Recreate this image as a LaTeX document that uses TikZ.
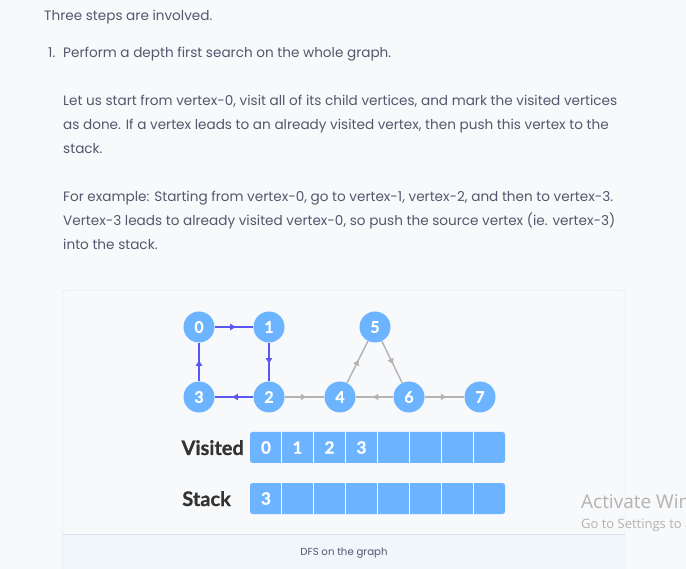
\documentclass[tikz,border=0pt]{standalone}
\usepackage{fontspec}
\setmainfont{Poppins}
\newfontfamily\lato{Lato}[BoldFeatures={FakeBold=0.8}]
\newfontfamily\winfont{Open Sans}
\usetikzlibrary{arrows.meta,decorations.markings}
\definecolor{pagebg}{HTML}{F8F9FB}
\definecolor{bodytext}{HTML}{56566E}
\definecolor{framegray}{HTML}{DCE2EB}
\definecolor{capband}{HTML}{F1F5FC}
\definecolor{vtxblue}{HTML}{6CB4FF}
\definecolor{dfsblue}{HTML}{5B57F2}
\definecolor{edgegray}{HTML}{B3B3B3}
\definecolor{labeldark}{HTML}{333333}

\begin{document}
\begin{tikzpicture}[x=1pt,y=-1pt,
  para/.style={anchor=base west,inner sep=0pt,text=bodytext,font=\fontsize{13.6}{16}\selectfont},
  vtx/.style={circle,fill=vtxblue,minimum size=31pt,inner sep=0pt,text=white,font=\lato\bfseries\fontsize{16}{16}\selectfont},
  midarrow/.style={postaction={decorate},decoration={markings,mark=at position 0.57 with {\arrow{Latex[length=6.5pt,width=7pt]}}}},
  dfsedge/.style={draw=dfsblue,line width=1.4pt,midarrow},
  greyedge/.style={draw=edgegray,line width=1.4pt,midarrow},
  arrlabel/.style={anchor=base east,inner sep=0pt,text=labeldark,font=\lato\bfseries\fontsize{20}{20}\selectfont},
  cellval/.style={inner sep=0pt,text=white,font=\lato\bfseries\fontsize{17}{17}\selectfont}]
\useasboundingbox (0,0) rectangle (686,569);
\fill[pagebg] (0,0) rectangle (686,569);

% page text
\node[para] (intro) at (44,21) {Three steps are involved.};
\node[para] (num1) at (48,58) {1.};
\node[para] (step1) at (63,58) {Perform a depth first search on the whole graph.};
\node[para] (l1) at (63,106) {Let us start from vertex-0, visit all of its child vertices, and mark the visited vertices};
\node[para] (l2) at (63,130) {as done. If a vertex leads to an already visited vertex, then push this vertex to the};
\node[para] (l3) at (63,154) {stack.};
\node[para] (l4) at (63,202) {For example: Starting from vertex-0, go to vertex-1, vertex-2, and then to vertex-3.};
\node[para] (l5) at (63,226) {Vertex-3 leads to already visited vertex-0, so push the source vertex (ie. vertex-3)};
\node[para] (l6) at (63,250) {into the stack.};

% figure frame
\draw[framegray,fill=pagebg,rounded corners=3pt] (62.5,290.5) rectangle (625,580);
\fill[capband] (63,534) rectangle (624.5,580);
\draw[framegray] (62.5,534) -- (625,534);
\node[inner sep=0pt,anchor=base,text=bodytext,font=\fontsize{10.2}{12}\selectfont] (cap) at (344,555) {DFS on the graph};

% graph
\node[vtx] (v0) at (199,327) {0};
\node[vtx] (v1) at (269,327) {1};
\node[vtx] (v5) at (375,327) {5};
\node[vtx] (v3) at (199,397) {3};
\node[vtx] (v2) at (269,397) {2};
\node[vtx] (v4) at (340,397) {4};
\node[vtx] (v6) at (409,397) {6};
\node[vtx] (v7) at (480,397) {7};

\draw[dfsedge] (v0) -- (v1);
\draw[dfsedge] (v1) -- (v2);
\draw[dfsedge] (v2) -- (v3);
\draw[dfsedge] (v3) -- (v0);
\draw[greyedge] (v2) -- (v4);
\draw[greyedge] (v4) -- (v5);
\draw[greyedge] (v5) -- (v6);
\draw[greyedge] (v6) -- (v4);
\draw[greyedge] (v6) -- (v7);

% visited array
\node[arrlabel] (vislabel) at (244,455) {Visited};
\fill[vtxblue,rounded corners=2.5pt] (250,432) rectangle (505,463);
\draw[white,line width=1pt] (281.5,432) -- (281.5,463) (313.5,432) -- (313.5,463)
  (345.5,432) -- (345.5,463) (377.5,432) -- (377.5,463) (409.5,432) -- (409.5,463)
  (441.5,432) -- (441.5,463) (473.5,432) -- (473.5,463);
\node[cellval] (vis0) at (266,447.5) {0};
\node[cellval] (vis1) at (297.5,447.5) {1};
\node[cellval] (vis2) at (329.5,447.5) {2};
\node[cellval] (vis3) at (361.5,447.5) {3};

% stack array
\node[arrlabel] (stklabel) at (231,506) {Stack};
\fill[vtxblue,rounded corners=2.5pt] (250,483) rectangle (505,514);
\draw[white,line width=1pt] (281.5,483) -- (281.5,514) (313.5,483) -- (313.5,514)
  (345.5,483) -- (345.5,514) (377.5,483) -- (377.5,514) (409.5,483) -- (409.5,514)
  (441.5,483) -- (441.5,514) (473.5,483) -- (473.5,514);
\node[cellval] (stk0) at (266,498.5) {3};

% watermark
\begin{scope}
\clip (0,0) rectangle (686,569);
\node[anchor=base west,inner sep=0pt,text=black!30,font=\winfont\fontsize{19}{19}\selectfont] (act) at (581,508) {Activate Windows};
\node[anchor=base west,inner sep=0pt,text=black!30,font=\winfont\fontsize{13}{13}\selectfont] (goset) at (581,528) {Go to Settings to activate Windows.};
\end{scope}
\end{tikzpicture}
\end{document}
